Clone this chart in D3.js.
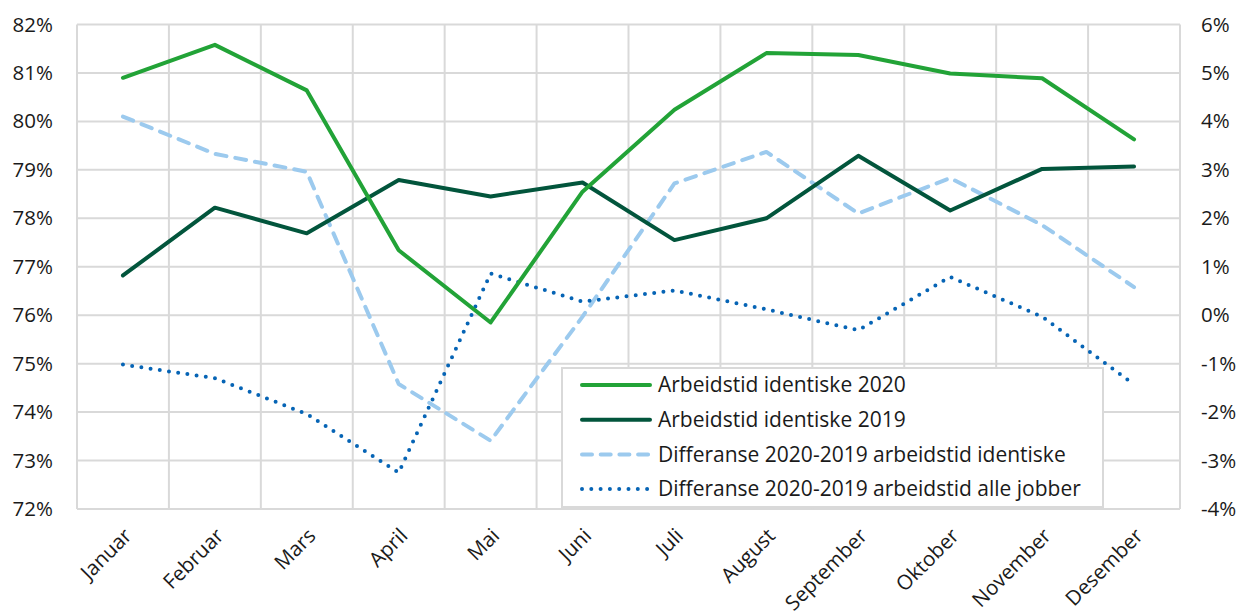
<!DOCTYPE html>
<html>
<head>
<meta charset="utf-8">
<script src="https://cdn.jsdelivr.net/npm/d3@7"></script>
<style>
  body { margin: 0; background: #fff; }
  text { font-family: "Open Sans", "Noto Sans", sans-serif; fill: #1a1a1a; }
</style>
</head>
<body>
<svg id="container" width="1241" height="615"></svg>
<script>
  // months on the x axis
  const months = ['Januar', 'Februar', 'Mars', 'April', 'Mai', 'Juni',
    'Juli', 'August', 'September', 'Oktober', 'November', 'Desember'];

  // left axis (percent)
  const arbeid2020 = [80.90, 81.58, 80.64, 77.34, 75.85, 78.55, 80.24, 81.41, 81.37, 80.99, 80.89, 79.63];
  const arbeid2019 = [76.82, 78.22, 77.69, 78.79, 78.45, 78.74, 77.55, 78.00, 79.29, 78.16, 79.02, 79.07];

  // right axis (percent points)
  const diffIdentiske = [4.10, 3.33, 2.96, -1.42, -2.59, -0.03, 2.72, 3.37, 2.10, 2.83, 1.86, 0.58];
  const diffAlle = [-1.02, -1.30, -2.04, -3.25, 0.86, 0.28, 0.51, 0.12, -0.31, 0.79, -0.03, -1.43];

  const leftTicks = d3.range(72, 83, 1);
  const rightTicks = d3.range(-4, 7, 1);

  const series = [
    { name: 'Arbeidstid identiske 2020', values: arbeid2020, axis: 'left', color: '#22a337', dash: null },
    { name: 'Arbeidstid identiske 2019', values: arbeid2019, axis: 'left', color: '#02553c', dash: null },
    { name: 'Differanse 2020-2019 arbeidstid identiske', values: diffIdentiske, axis: 'right', color: '#9ccaee', dash: '11 9' },
    { name: 'Differanse 2020-2019 arbeidstid alle jobber', values: diffAlle, axis: 'right', color: '#0664b5', dash: '0 9.3' },
  ];

  const svg = d3.select('#container');
  const margin = { top: 24.5, right: 61, bottom: 106, left: 77 };
  const width = +svg.attr('width');
  const height = +svg.attr('height');
  const innerW = width - margin.left - margin.right;
  const innerH = height - margin.top - margin.bottom;

  const x = d3.scaleBand().domain(months).range([margin.left, margin.left + innerW]);
  const yLeft = d3.scaleLinear().domain([72, 82]).range([margin.top + innerH, margin.top]);
  const yRight = d3.scaleLinear().domain([-4, 6]).range([margin.top + innerH, margin.top]);

  const grid = svg.append('g');
  // horizontal gridlines
  grid.selectAll('line.h')
    .data(leftTicks)
    .enter()
    .append('line')
    .attr('x1', margin.left)
    .attr('x2', margin.left + innerW)
    .attr('y1', (d) => yLeft(d))
    .attr('y2', (d) => yLeft(d))
    .attr('stroke', '#d9d9d9')
    .attr('stroke-width', 2);

  // vertical gridlines at band edges
  const edges = months.map((m) => x(m)).concat([margin.left + innerW]);
  grid.selectAll('line.v')
    .data(edges)
    .enter()
    .append('line')
    .attr('x1', (d) => d)
    .attr('x2', (d) => d)
    .attr('y1', margin.top)
    .attr('y2', margin.top + innerH)
    .attr('stroke', '#d9d9d9')
    .attr('stroke-width', 2);

  const TICK_FONT = '20.5px';

  // left axis labels
  svg.append('g')
    .attr('transform', `translate(${margin.left - 24},0)`)
    .call(d3.axisLeft(yLeft).tickValues(leftTicks).tickSize(0).tickFormat((d) => d + '%'))
    .call((g) => g.select('.domain').remove())
    .selectAll('text')
    .attr('x', 0)
    .style('font-size', TICK_FONT)
    .style('font-family', '"Open Sans", sans-serif')
    .attr('fill', '#1a1a1a');

  // right axis labels
  svg.append('g')
    .attr('transform', `translate(${margin.left + innerW + 21},0)`)
    .call(d3.axisRight(yRight).tickValues(rightTicks).tickSize(0).tickFormat((d) => d + '%'))
    .call((g) => g.select('.domain').remove())
    .selectAll('text')
    .attr('x', 0)
    .style('font-size', TICK_FONT)
    .style('font-family', '"Open Sans", sans-serif')
    .attr('fill', '#1a1a1a');

  // x axis labels, rotated
  svg.append('g')
    .selectAll('text')
    .data(months)
    .enter()
    .append('text')
    .attr('transform', (d) => `translate(${x(d) + x.bandwidth() / 2 + 5},${margin.top + innerH + 23}) rotate(-45)`)
    .attr('text-anchor', 'end')
    .attr('dy', '0.35em')
    .style('font-size', TICK_FONT)
    .text((d) => d);

  const lineFor = (s) => {
    const yScale = s.axis === 'left' ? yLeft : yRight;
    return d3.line()
      .x((d, i) => x(months[i]) + x.bandwidth() / 2)
      .y((d) => yScale(d));
  };

  // draw order: dashed, dotted, then solids on top
  const drawOrder = [series[2], series[3], series[1], series[0]];
  svg.append('g')
    .selectAll('path')
    .data(drawOrder)
    .enter()
    .append('path')
    .attr('d', (s) => lineFor(s)(s.values))
    .attr('fill', 'none')
    .attr('stroke', (s) => s.color)
    .attr('stroke-width', 4)
    .attr('stroke-linecap', 'round')
    .attr('stroke-linejoin', 'round')
    .attr('stroke-dasharray', (s) => s.dash);

  // legend
  const legend = svg.append('g').attr('transform', 'translate(562,368)');
  legend.append('rect')
    .attr('width', 541)
    .attr('height', 139)
    .attr('fill', '#fff')
    .attr('stroke', '#d9d9d9')
    .attr('stroke-width', 2);

  const items = legend.selectAll('g.item')
    .data(series)
    .enter()
    .append('g')
    .attr('transform', (s, i) => `translate(0,${17 + i * 34.7})`);

  items.append('line')
    .attr('x1', 20)
    .attr('x2', 88)
    .attr('y1', 0)
    .attr('y2', 0)
    .attr('stroke', (s) => s.color)
    .attr('stroke-width', 4)
    .attr('stroke-linecap', 'round')
    .attr('stroke-dasharray', (s) => (s.dash === '11 9' ? '10 8.7' : s.dash));

  items.append('text')
    .attr('x', 96)
    .attr('y', 0)
    .attr('dy', '0.35em')
    .style('font-size', '21px')
    .text((s) => s.name);
</script>
</body>
</html>
